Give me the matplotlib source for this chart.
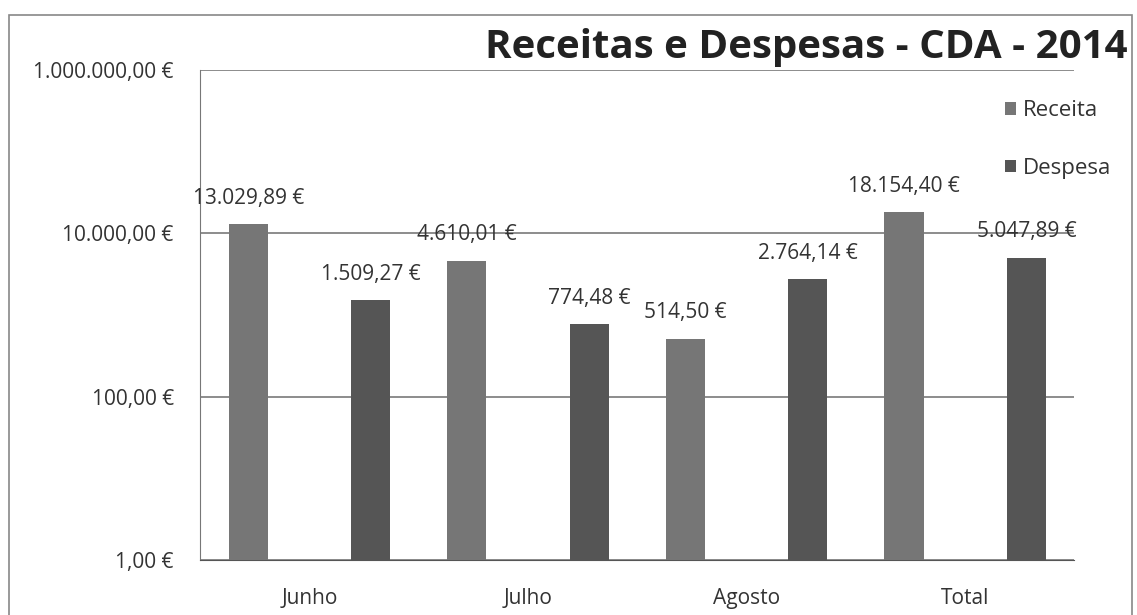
import matplotlib.pyplot as plt
import numpy as np
from matplotlib.patches import Rectangle

plt.rcParams['font.family'] = ['Open Sans', 'DejaVu Sans']

meses = ["Junho", "Julho", "Agosto", "Total"]
receita = [13029.89, 4610.01, 514.50, 18154.40]
despesa = [1509.27, 774.48, 2764.14, 5047.89]
yticks = [1, 100, 10000, 1000000]


def euro(v):
    s = f"{v:,.2f}"
    s = s.replace(",", "X").replace(".", ",").replace("X", ".")
    return s + " €"


fig = plt.figure(figsize=(11.37, 6.15), dpi=100)
fig.patch.set_facecolor("white")
ax = fig.add_axes([0.176, 0.0894, 0.769, 0.797])

x = np.arange(len(meses))
w = 0.18
off = 0.28
b1 = ax.bar(x - off, receita, w, color="#767676", label="Receita", zorder=3)
b2 = ax.bar(x + off, despesa, w, color="#555555", label="Despesa", zorder=3)

ax.set_yscale("log")
ax.set_ylim(1, 1e6)
ax.set_xlim(-0.5, len(meses) - 0.5)
ax.set_yticks(yticks)
ax.set_yticklabels([euro(v) for v in yticks])
ax.minorticks_off()
ax.set_xticks(x)
ax.set_xticklabels(meses)
ax.tick_params(axis="y", length=0, pad=19, labelsize=15, colors="#333333")
ax.tick_params(axis="x", length=0, pad=20, labelsize=15, colors="#333333")
ax.yaxis.grid(True, color="#6e6e6e", linewidth=1.1, zorder=0)

for s in ["top", "right"]:
    ax.spines[s].set_visible(False)
ax.spines["left"].set_color("#777777")
ax.spines["bottom"].set_color("#555555")

for bars, vals in [(b1, receita), (b2, despesa)]:
    for b, v in zip(bars, vals):
        ax.annotate(euro(v), (b.get_x() + b.get_width() / 2, v),
                    xytext=(0, 11), textcoords="offset points",
                    ha="center", va="bottom", fontsize=15, color="#333333")

fig.text(0.992, 0.905, "Receitas e Despesas - CDA - 2014", ha="right",
         va="baseline", fontsize=29, fontweight="bold", color="#222222")

ax.legend(loc="upper left", bbox_to_anchor=(0.874, 0.855),
          bbox_transform=fig.transFigure, frameon=False, fontsize=16,
          labelspacing=1.65, handlelength=0.5, handleheight=0.5,
          handletextpad=0.3, borderpad=0, labelcolor="#333333")

fig.add_artist(Rectangle((0.008, -0.01), 0.988, 0.986, transform=fig.transFigure,
                         fill=False, edgecolor="#888888", linewidth=1.2))

fig.savefig("out.png", dpi=100)
